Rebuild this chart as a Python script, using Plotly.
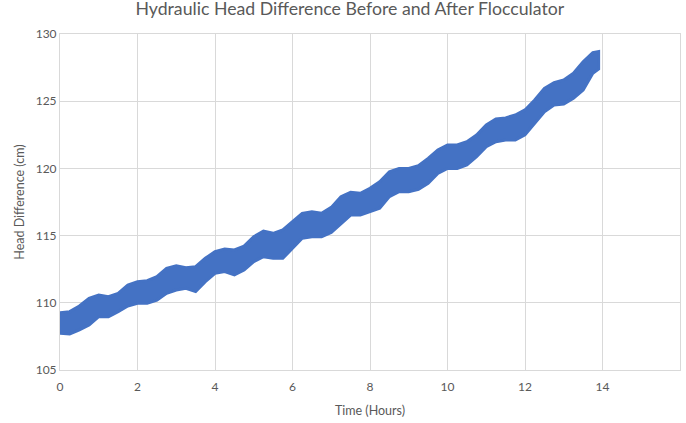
import plotly.graph_objects as go

# Time (hours) at which the envelope of the measured band was read
hours = [0.0, 0.25, 0.5, 0.75, 1.0, 1.25, 1.5, 1.75, 2.0, 2.25, 2.5, 2.75, 3.0, 3.25, 3.5,
         3.75, 4.0, 4.25, 4.5, 4.75, 5.0, 5.25, 5.5, 5.75, 6.0, 6.25, 6.5, 6.75, 7.0, 7.25,
         7.5, 7.75, 8.0, 8.25, 8.5, 8.75, 9.0, 9.25, 9.5, 9.75, 10.0, 10.25, 10.5, 10.75,
         11.0, 11.25, 11.5, 11.75, 12.0, 12.25, 12.5, 12.75, 13.0, 13.25, 13.5, 13.75, 13.9]

# Upper edge of the head-difference readings (cm)
head_upper = [109.26, 109.34, 109.76, 110.33, 110.58, 110.46, 110.70, 111.32, 111.57, 111.65,
              111.94, 112.56, 112.76, 112.61, 112.69, 113.31, 113.80, 114.00, 113.93, 114.22,
              114.92, 115.34, 115.17, 115.42, 116.04, 116.66, 116.78, 116.66, 117.10, 117.90,
              118.22, 118.15, 118.52, 119.01, 119.75, 120.00, 120.00, 120.20, 120.75, 121.37,
              121.74, 121.74, 121.99, 122.49, 123.23, 123.68, 123.76, 123.97, 124.35, 125.09,
              125.96, 126.38, 126.58, 127.08, 127.94, 128.61, 128.70]

# Lower edge of the head-difference readings (cm)
head_lower = [107.73, 107.68, 107.98, 108.35, 108.97, 108.97, 109.34, 109.76, 109.96, 109.96,
              110.20, 110.70, 110.95, 111.08, 110.83, 111.57, 112.19, 112.32, 112.07, 112.44,
              113.06, 113.43, 113.31, 113.31, 114.05, 114.80, 114.92, 114.92, 115.23, 115.91,
              116.53, 116.53, 116.78, 117.03, 117.90, 118.27, 118.27, 118.45, 118.89, 119.63,
              120.00, 120.00, 120.25, 120.87, 121.62, 121.99, 122.11, 122.11, 122.49, 123.35,
              124.22, 124.72, 124.79, 125.21, 125.83, 127.08, 127.40]

x_ticks = [0, 2, 4, 6, 8, 10, 12, 14, 16]
y_ticks = [105, 110, 115, 120, 125, 130]

BLUE = "#4472C4"
GRID = "#D9D9D9"
TXT = "#595959"

band_x = hours + hours[::-1]
band_y = head_upper + head_lower[::-1]

fig = go.Figure()
fig.add_trace(go.Scatter(
    x=band_x, y=band_y, mode="lines", fill="toself",
    fillcolor=BLUE, line=dict(color=BLUE, width=3),
    hoverinfo="skip", showlegend=False,
))

fig.update_layout(
    width=686, height=423,
    margin=dict(l=60, r=6, t=34, b=53, autoexpand=False),
    paper_bgcolor="white", plot_bgcolor="white",
    font=dict(family="Lato, Open Sans, sans-serif", color=TXT, size=12),
    title=dict(text="Hydraulic Head Difference Before and After Flocculator",
               x=0.51, xanchor="center", xref="container",
               y=0.980, yref="container", yanchor="middle",
               font=dict(size=17.7, color=TXT), automargin=False),
    showlegend=False,
)
fig.update_xaxes(
    range=[0, 16], tickvals=x_ticks, ticktext=[str(v) for v in x_ticks],
    showgrid=True, gridcolor=GRID, gridwidth=1,
    showline=True, linecolor=GRID, linewidth=1, mirror=True,
    zeroline=False, ticks="", automargin=False, ticklabelstandoff=6,
    title=dict(text="Time (Hours)", font=dict(size=12.5, color=TXT), standoff=12),
    tickfont=dict(size=12, color=TXT),
)
fig.update_yaxes(
    range=[105, 130], tickvals=y_ticks, ticktext=[str(v) for v in y_ticks],
    showgrid=True, gridcolor=GRID, gridwidth=1,
    showline=True, linecolor=GRID, linewidth=1, mirror=True,
    zeroline=False, ticks="", automargin=False,
    title=dict(text="Head Difference (cm)", font=dict(size=12.5, color=TXT), standoff=8),
    tickfont=dict(size=12, color=TXT),
)

fig.write_html("out.html",
               config={"displayModeBar": False, "staticPlot": True},
               post_script="document.body.style.margin='0';document.body.style.padding='0';")
